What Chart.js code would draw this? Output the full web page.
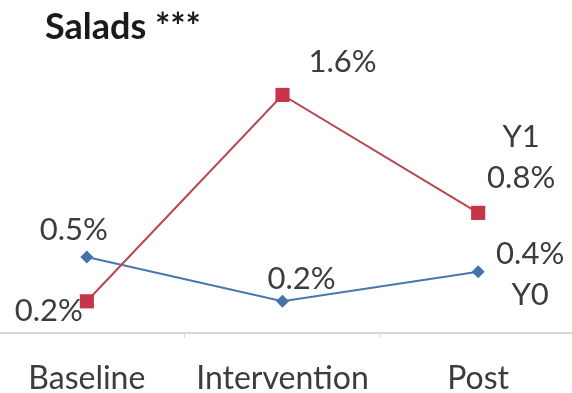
<!DOCTYPE html>
<html>
<head>
<meta charset="utf-8">
<script src="https://cdn.jsdelivr.net/npm/chart.js@4"></script>
<style>
  html, body { margin: 0; padding: 0; background: #ffffff; overflow: hidden; }
  #wrap { position: relative; width: 572px; height: 393px; overflow: hidden; }
  #chart { position: absolute; left: -11px; top: 0; }
</style>
</head>
<body>
<div id="wrap"><canvas id="chart" width="587" height="393"></canvas></div>
<script>
// Share of purchases that were salads, by study phase
const chartTitle = 'Salads ***';
const categories = ['Baseline', 'Intervention', 'Post'];
const seriesNames = ['Y1', 'Y0'];
const y1Values = [0.2, 1.6, 0.8];
const y0Values = [0.5, 0.2, 0.4];

const TEXT = '#3c3c3c';
const FONT = 'Lato, "Open Sans", sans-serif';

// Title drawn in the top-left corner of the canvas
const titlePlugin = {
  id: 'cornerTitle',
  afterDraw(chart, args, opts) {
    const ctx = chart.ctx;
    ctx.save();
    ctx.font = 'bold 36px ' + FONT;
    ctx.fillStyle = '#1a1a1a';
    ctx.textAlign = 'left';
    ctx.textBaseline = 'middle';
    ctx.fillText(opts.text, opts.x, opts.y);
    ctx.restore();
  }
};

// Percentage labels next to each point; the last point also carries the series name
const pointLabels = {
  id: 'pointLabels',
  afterDatasetsDraw(chart, args, opts) {
    const ctx = chart.ctx;
    ctx.save();
    ctx.font = opts.size + 'px ' + FONT;
    ctx.fillStyle = TEXT;
    ctx.textAlign = 'center';
    ctx.textBaseline = 'middle';
    chart.data.datasets.forEach((ds, di) => {
      const meta = chart.getDatasetMeta(di);
      meta.data.forEach((pt, i) => {
        const off = opts.offsets[di][i];
        const lines = [ds.data[i].toFixed(1) + '%'];
        const last = i === ds.data.length - 1;
        if (last) {
          if (opts.namePlacement[di] === 'above') lines.unshift(ds.label);
          else lines.push(ds.label);
        }
        const cx = pt.x + off[0];
        const cy = pt.y + off[1];
        const top = cy - (lines.length - 1) * opts.lineGap / 2;
        lines.forEach((t, k) => ctx.fillText(t, cx, top + k * opts.lineGap));
      });
    });
    ctx.restore();
  }
};

new Chart(document.getElementById('chart'), {
  type: 'line',
  data: {
    labels: categories,
    datasets: [
      {
        label: seriesNames[0],
        data: y1Values,
        borderColor: '#b8474f',
        backgroundColor: '#c8344a',
        borderWidth: 2,
        pointStyle: 'rect',
        pointRadius: 10,
        pointBorderWidth: 0,
        tension: 0
      },
      {
        label: seriesNames[1],
        data: y0Values,
        borderColor: '#4a76ad',
        backgroundColor: '#4472a8',
        borderWidth: 2,
        pointStyle: 'rectRot',
        pointRadius: 6.5,
        pointBorderWidth: 0,
        tension: 0
      }
    ]
  },
  options: {
    responsive: false,
    animation: false,
    devicePixelRatio: 1,
    layout: { autoPadding: false, padding: { top: 36, left: 0, right: 0, bottom: 0 } },
    plugins: {
      legend: { display: false },
      tooltip: { enabled: false },
      title: { display: false },
      cornerTitle: { text: chartTitle, x: 56, y: 27 },
      pointLabels: {
        size: 31,
        lineGap: 41,
        namePlacement: ['above', 'below'],
        offsets: [
          [[-38, 10], [60, -33], [43, -55]],
          [[-13, -27], [19, -22], [52, 3]]
        ]
      }
    },
    scales: {
      x: {
        type: 'category',
        offset: true,
        afterFit(scale) { scale.height = 60; },
        grid: {
          offset: true,
          drawOnChartArea: false,
          drawTicks: true,
          tickLength: 5,
          color: '#d9d9d9',
          lineWidth: 1
        },
        border: { display: true, color: '#d6d6d6', width: 2 },
        ticks: {
          color: TEXT,
          padding: 21,
          font: { family: FONT, size: 32 },
          maxRotation: 0,
          autoSkip: false
        }
      },
      y: {
        display: false,
        min: -0.015,
        max: 2.0
      }
    }
  },
  plugins: [titlePlugin, pointLabels]
});
</script>
</body>
</html>
